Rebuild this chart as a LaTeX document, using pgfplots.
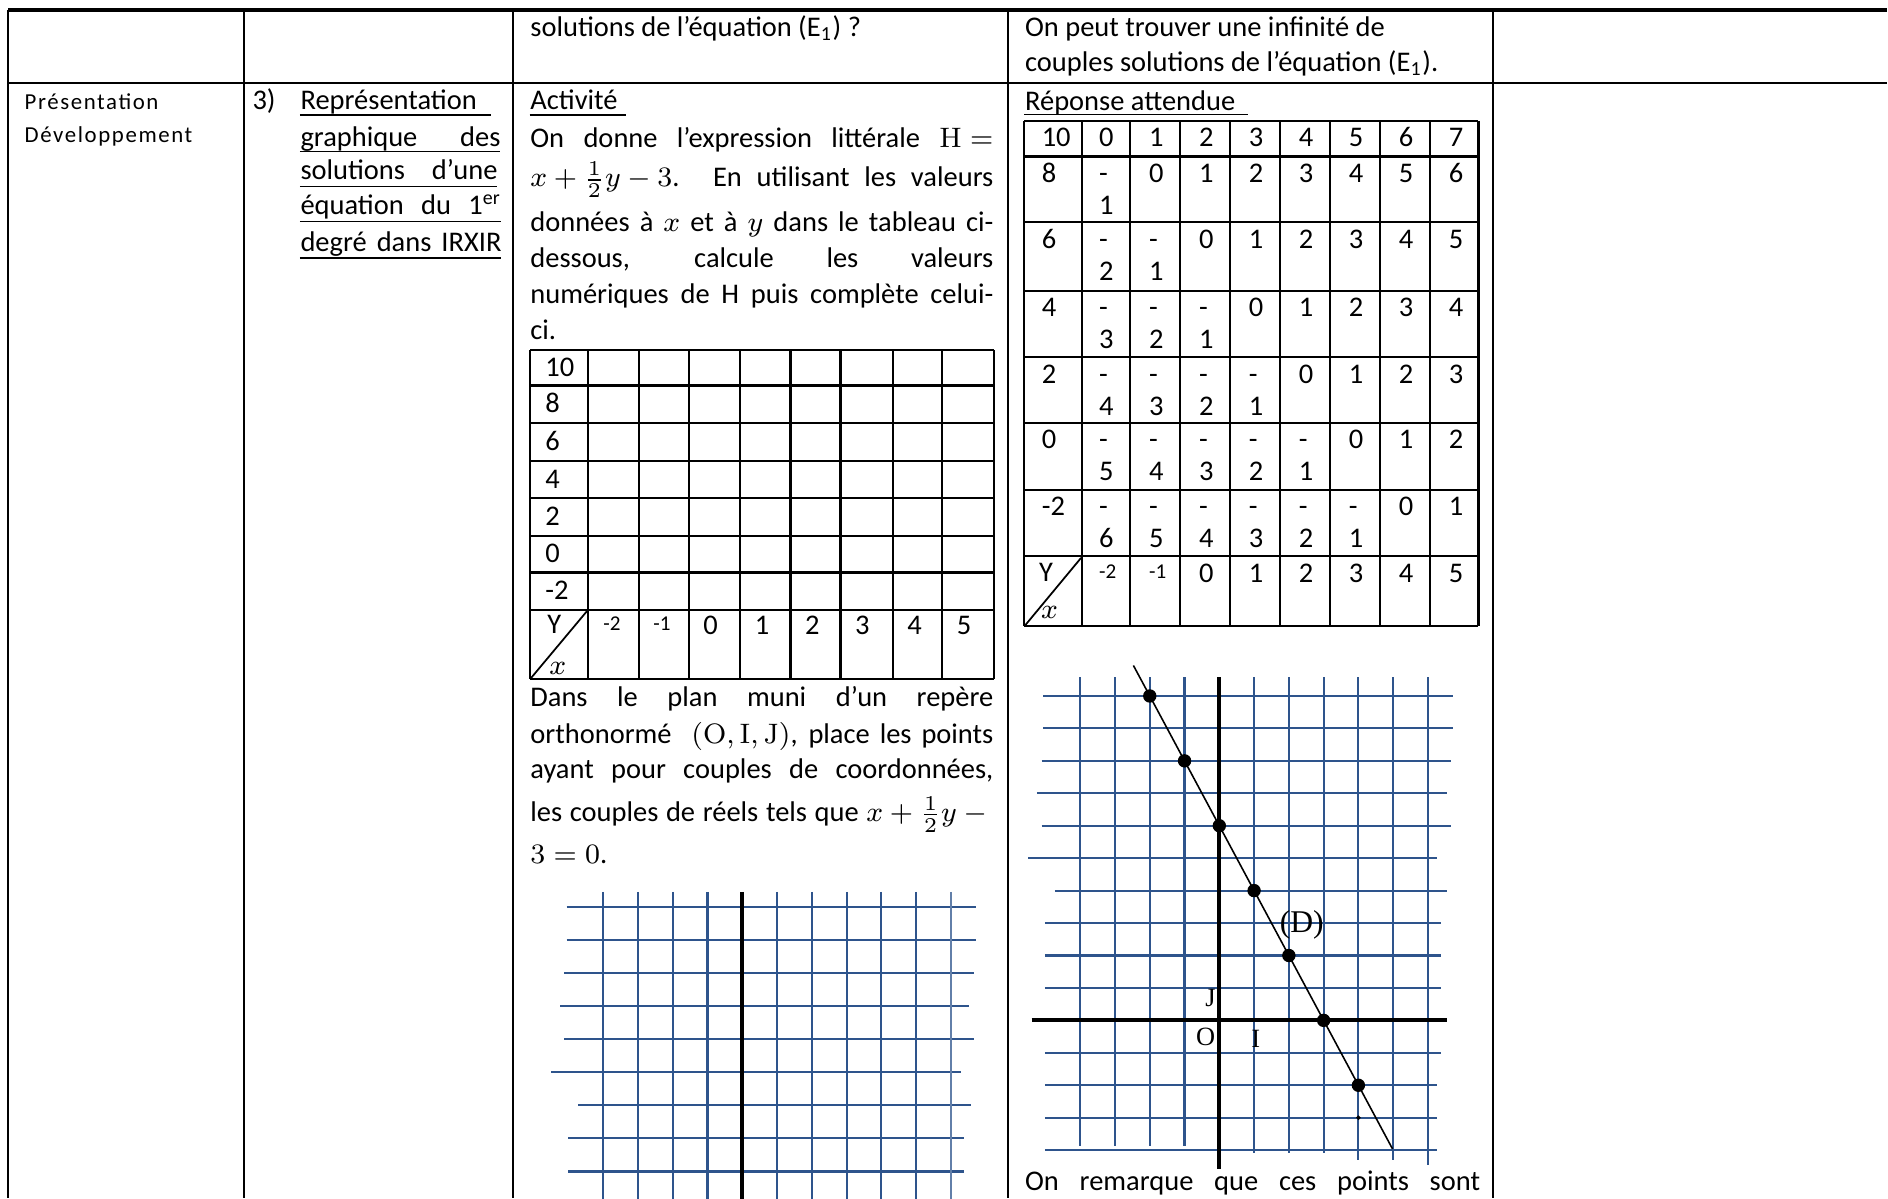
\documentclass[border=0pt]{standalone}
\usepackage{pgfplots}
\pgfplotsset{compat=1.18}
\usepackage{pgfplotstable}
\usepackage[no-math]{fontspec}
\setmainfont{Carlito}
\newfontfamily\spacedfont[LetterSpace=7]{Carlito}
\newfontfamily\timesfont{Liberation Serif}
\definecolor{gridblue}{RGB}{46,84,140}
\newcommand\bodyfont{\fontsize{8.1}{9.7}\selectfont}
\newcommand\smallnum{\fontsize{6}{7}\selectfont}
\newcommand\jline[2]{\makebox[#1][s]{#2}}

% grid of the answer (x, y in grid units), nan = jump
\pgfplotstableread{
x y
-4 10.57
-4 -3.87
nan nan
-3 10.57
-3 -3.87
nan nan
-2 10.57
-2 -3.87
nan nan
-1 10.57
-1 -3.87
nan nan
1 10.57
1 -4.1
nan nan
2 10.57
2 -4.1
nan nan
3 10.57
3 -4.1
nan nan
4 10.57
4 -4.3
nan nan
5 10.57
5 -4.3
nan nan
6 10.57
6 -4.45
nan nan
-5.06 10
6.73 10
nan nan
-5.06 9
6.73 9
nan nan
-5.11 8
6.66 8
nan nan
-5.25 7
6.54 7
nan nan
-5.11 6
6.66 6
nan nan
-5.49 5
6.27 5
nan nan
-4.73 4
6.56 4
nan nan
-5.02 3
6.37 3
nan nan
-5.02 2
6.37 2
nan nan
-5.02 1
6.37 1
nan nan
-5.02 -1
6.37 -1
nan nan
-5.02 -2
6.26 -2
nan nan
-5.02 -3
6.26 -3
nan nan
-5.02 -4
6.26 -4
}\rightgrid

% empty grid of the activity
\pgfplotstableread{
x y
-4 10.45
-4 1.17
nan nan
-3 10.45
-3 1.17
nan nan
-2 10.45
-2 1.17
nan nan
-1 10.45
-1 1.17
nan nan
1 10.45
1 1.17
nan nan
2 10.45
2 1.17
nan nan
3 10.45
3 1.17
nan nan
4 10.45
4 1.17
nan nan
5 10.45
5 1.17
nan nan
-5.05 10
6.72 10
nan nan
-5.05 9
6.72 9
nan nan
-5.12 8
6.66 8
nan nan
-5.24 7
6.53 7
nan nan
-5.12 6
6.66 6
nan nan
-5.50 5
6.28 5
nan nan
-4.72 4
6.57 4
nan nan
-5.0 3
6.38 3
nan nan
-5.0 2
6.38 2
}\leftgrid

\begin{document}
\begin{tikzpicture}
% ---- table, text (page pixels, y down)
\begin{scope}[shift={(0,11.99)}, x=0.01cm, y=-0.01cm,
  tbl/.style={line width=0.6pt},
  ul/.style={line width=0.45pt},
  every node/.style={inner sep=0pt, anchor=base west, font=\bodyfont}]
\draw[line width=0.9pt] (8.3,10) -- (1888,10);
\draw[tbl] (8.3,10) -- (8.3,1199);
\foreach \x in {244,513,1009,1494} \draw[tbl] (\x,10) -- (\x,1199);
\draw[tbl] (8.3,83) -- (1888,83);

% row 1
\node at (530,37) {solutions de l’équation (E\textsubscript{1}) ?};
\node at (1025,37) {On peut trouver une infinité de};
\node at (1025,72) {couples solutions de l’équation (E\textsubscript{1}).};

% column 1
\node[font=\spacedfont\fontsize{6.5}{8}\selectfont] at (24,110) {Présentation};
\node[font=\spacedfont\fontsize{6.5}{8}\selectfont] at (24,143) {Développement};

% column 2
\node at (252,110) {3)};
\node at (300,110) {Représentation};
\node at (300,146.7) {\jline{2.0cm}{graphique des}};
\node at (300,180) {\jline{1.97cm}{solutions d’une}};
\node at (300,215) {\jline{2.01cm}{équation du 1\textsuperscript{er}}};
\node at (300,251.7) {\jline{2.01cm}{degré dans IRXIR}};
\draw[ul] (300,115) -- (491,115);
\draw[ul] (300,151.7) -- (500,151.7);
\draw[ul] (300,186.7) -- (497.4,186.7);
\draw[ul] (300,221.7) -- (501,221.7);
\draw[ul] (300,258.3) -- (501,258.3);

% column 3, activity
\node at (530,110) {Activité};
\draw[ul] (530,115) -- (626,115);
\node at (530,147.5) {\jline{4.63cm}{On donne l’expression littérale ${\mathrm{H}=}$}};
\node at (530,187) {\jline{4.63cm}{${x+\frac{1}{2}y-3}$. En utilisant les valeurs}};
\node at (530,232) {\jline{4.63cm}{données à $x$ et à $y$ dans le tableau ci-}};
\node at (530,268) {\jline{4.63cm}{dessous, calcule les valeurs}};
\node at (530,304) {\jline{4.63cm}{numériques de H puis complète celui-}};
\node at (530,340) {ci.};

% empty table
\foreach \x in {530.7,588.3,639,689,740.7,791,841,893.3,942.7,995}
  \draw[tbl] (\x,350) -- (\x,679.2);
\foreach \y in {350,385.8,423.7,461.6,498.4,536.3,572.8,610.3,679.2}
  \draw[tbl] (530.7,\y) -- (995,\y);
\foreach \y/\l in {350/10,385.8/8,423.7/6,461.6/4,498.4/2,536.3/0,572.8/-2}
  \node at (545,\y+27) {\l};
\draw[line width=0.5pt] (530.7,679.2) -- (588.3,610.3);
\node at (547,634.3) {Y};
\node at (549,675) {$x$};
\node[font=\smallnum] at (603,631) {-2};
\node[font=\smallnum] at (653,631) {-1};
\foreach \x/\l in {689/0,740.7/1,791/2,841/3,893.3/4,942.7/5}
  \node at (\x+14,635) {\l};

\node at (530,707) {\jline{4.63cm}{Dans le plan muni d’un repère}};
\node at (530,744) {\jline{4.63cm}{orthonormé \ ${(\mathrm{O},\mathrm{I},\mathrm{J})}$, place les points}};
\node at (530,779) {\jline{4.63cm}{ayant pour couples de coordonnées,}};
\node at (530,822) {\jline{4.63cm}{les couples de réels tels que ${x+\frac{1}{2}y-{}}$}};
\node at (530,864) {$3=0$.};

% column 4, expected answer
\node at (1025,111) {Réponse attendue};
\draw[ul] (1025,114.6) -- (1248.3,114.6);
\foreach \x in {1025,1082.7,1131,1181,1231,1281,1331,1381,1431,1479.3}
  \draw[tbl] (\x,120.9) -- (\x,626.6);
\foreach \y in {120.9,156.6,222.6,291,357.6,423.2,489.9,556.5,626.6}
  \draw[tbl] (1025,\y) -- (1479.3,\y);
\foreach \t/\lab/\vals in {
  120.9/10/{0,1,2,3,4,5,6,7},
  156.6/8/{-1,0,1,2,3,4,5,6},
  222.6/6/{-2,-1,0,1,2,3,4,5},
  291/4/{-3,-2,-1,0,1,2,3,4},
  357.6/2/{-4,-3,-2,-1,0,1,2,3},
  423.2/0/{-5,-4,-3,-2,-1,0,1,2},
  489.9/-2/{-6,-5,-4,-3,-2,-1,0,1}}{
  \node at (1041.7,\t+26) {\lab};
  \foreach \v [count=\i from 0] in \vals {
    \pgfmathsetmacro\cx{1099+50*\i}
    \ifnum\v<0
      \pgfmathtruncatemacro\av{abs(\v)}
      \node at (\cx,\t+26) {-};
      \node at (\cx,\t+58) {\av};
    \else
      \node at (\cx,\t+26) {\v};
    \fi
  }
}
\draw[line width=0.5pt] (1025,626.6) -- (1081.7,558.2);
\node at (1039,582) {Y};
\node at (1041,619) {$x$};
\node[font=\smallnum] at (1099,579) {-2};
\node[font=\smallnum] at (1149,579) {-1};
\foreach \x/\l in {1199/0,1249/1,1299/2,1349/3,1399/4,1449/5}
  \node at (\x,582.8) {\l};

\node at (1025,1191) {\jline{4.55cm}{On remarque que ces points sont}};
\end{scope}

% ---- empty grid (activity)
\begin{axis}[anchor=origin, at={(7.423cm,-0.387cm)}, x=0.3477cm, y=0.331cm,
  xmin=-6, xmax=7, ymin=-1, ymax=11.5, enlargelimits=false,
  hide axis, clip=false, unbounded coords=jump]
\addplot[gridblue, line width=0.6pt, no marks] table {\leftgrid};
\addplot[gridblue!75, line width=0.6pt, no marks] coordinates {(6,10.45) (6,1.17)};
\addplot[black, line width=1.2pt, no marks] coordinates {(0,10.45) (0,1.17)};
\end{axis}

% ---- answer grid with line (D)
\begin{axis}[anchor=origin, at={(12.193cm,1.786cm)}, x=0.3477cm, y=0.3244cm,
  xmin=-6, xmax=7, ymin=-5, ymax=11.5, enlargelimits=false,
  hide axis, clip=false, unbounded coords=jump]
\addplot[gridblue, line width=0.6pt, no marks] table {\rightgrid};
\addplot[black, line width=1.2pt, no marks] coordinates {(0,10.57) (0,-4.58)};
\addplot[black, line width=1.2pt, no marks] coordinates {(-5.40,0) (6.56,0)};
\addplot[black, line width=0.45pt, no marks] coordinates {(-2.47,10.94) (4.98,-3.96)};
\addplot[black, only marks, mark=*, mark size=1.7pt]
  coordinates {(-2,10) (-1,8) (0,6) (1,4) (2,2) (3,0) (4,-2)};
\addplot[black, only marks, mark=*, mark size=0.4pt] coordinates {(4,-3)};
\node[font=\timesfont\fontsize{9}{10}\selectfont] at (axis cs:2.37,2.93) {(D)};
\node[font=\timesfont\fontsize{7.5}{9}\selectfont] at (axis cs:-0.25,0.68) {J};
\node[font=\timesfont\fontsize{7.5}{9}\selectfont] at (axis cs:-0.39,-0.50) {O};
\node[font=\timesfont\fontsize{7.5}{9}\selectfont] at (axis cs:1.05,-0.58) {I};
\end{axis}

\pgfresetboundingbox
\path[use as bounding box] (0,0) rectangle (18.88,11.99);
\end{tikzpicture}
\end{document}
